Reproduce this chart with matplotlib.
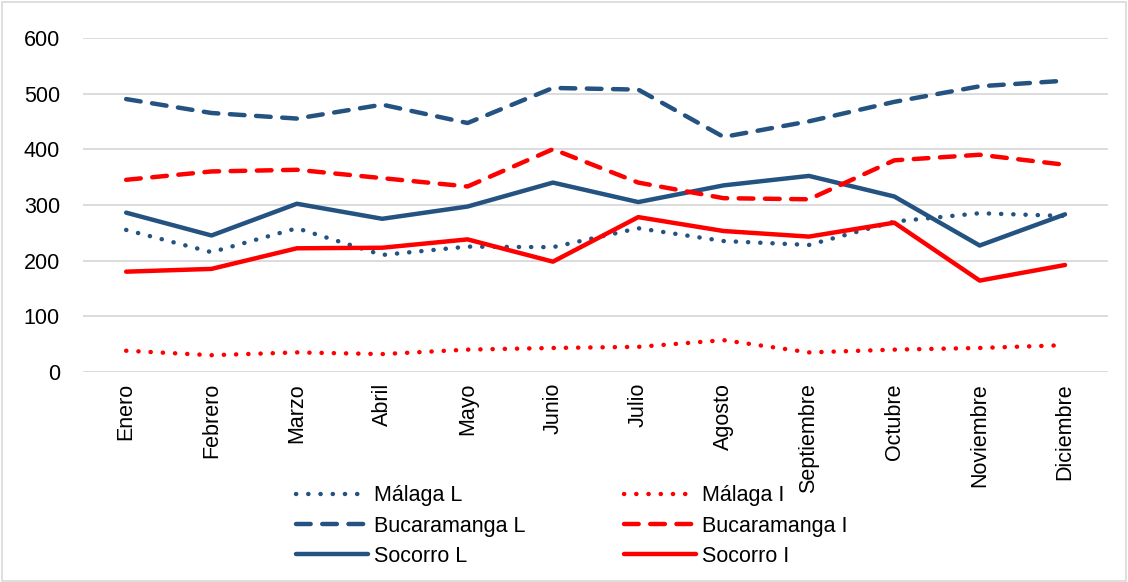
import matplotlib
matplotlib.use("Agg")
import matplotlib.pyplot as plt
from matplotlib.patches import Rectangle

plt.rcParams['font.family'] = ['Liberation Sans', 'DejaVu Sans']

months = ["Enero", "Febrero", "Marzo", "Abril", "Mayo", "Junio", "Julio",
          "Agosto", "Septiembre", "Octubre", "Noviembre", "Diciembre"]

malaga_L = [255, 215, 258, 210, 225, 224, 258, 235, 228, 270, 285, 280]
bucaramanga_L = [490, 465, 455, 480, 447, 510, 507, 422, 450, 485, 513, 523]
socorro_L = [286, 245, 302, 275, 297, 340, 305, 335, 352, 315, 227, 283]
malaga_I = [38, 30, 35, 32, 40, 43, 45, 57, 35, 40, 43, 48]
bucaramanga_I = [345, 360, 363, 348, 333, 400, 340, 312, 310, 380, 390, 372]
socorro_I = [180, 185, 222, 223, 238, 198, 278, 253, 243, 268, 164, 192]

yticks = [0, 100, 200, 300, 400, 500, 600]

BLUE = '#245281'
RED = '#ff0000'
FS = 15.5

fig = plt.figure(figsize=(11.28, 5.82), dpi=100)
ax = fig.add_axes([0.074, 0.361, 0.908, 0.574])

x = list(range(len(months)))
lw = 3.2
dot = dict(linestyle=(0, (0.05, 2.7)), dash_capstyle='round')
dash = dict(linestyle=(0, (3.3, 2.6)), dash_capstyle='round')

ax.plot(x, malaga_L, color=BLUE, lw=lw, label='Málaga L', **dot)
ax.plot(x, bucaramanga_L, color=BLUE, lw=lw, label='Bucaramanga L', **dash)
ax.plot(x, socorro_L, color=BLUE, lw=lw, label='Socorro L', solid_capstyle='round')
ax.plot(x, malaga_I, color=RED, lw=lw, label='Málaga I', **dot)
ax.plot(x, bucaramanga_I, color=RED, lw=lw, label='Bucaramanga I', **dash)
ax.plot(x, socorro_I, color=RED, lw=lw, label='Socorro I', solid_capstyle='round')

ax.set_xlim(-0.5, len(months) - 0.5)
ax.set_ylim(0, 600)
ax.set_yticks(yticks)
ax.set_yticklabels([str(v) for v in yticks], fontsize=FS)
ax.set_xticks(x)
ax.set_xticklabels(months, rotation=90, fontsize=FS)
ax.tick_params(axis='both', length=0)
ax.tick_params(axis='y', pad=17)
ax.tick_params(axis='x', pad=8)
ax.yaxis.grid(True, color='#d9d9d9', lw=1.3)
ax.set_axisbelow(True)
for s in ax.spines.values():
    s.set_visible(False)

fig.legend(loc='center', bbox_to_anchor=(0.507, 0.096), ncol=2, frameon=False,
           fontsize=FS, handlelength=3.33, handletextpad=0.28,
           columnspacing=4.6, labelspacing=0.43, borderpad=0.2)

fig.patches.append(Rectangle((0.002, 0.002), 0.996, 0.994, transform=fig.transFigure,
                             fill=False, edgecolor='#d9d9d9', lw=1.2))

fig.savefig('out.png', dpi=100)
